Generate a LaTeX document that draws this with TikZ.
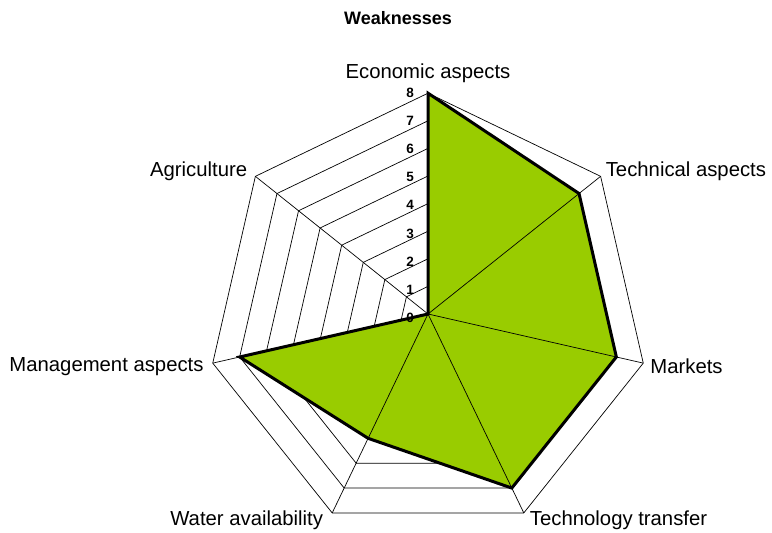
\documentclass[tikz,border=0pt]{standalone}
\usepackage{fontspec}
\setmainfont{Liberation Sans}
\definecolor{chartgreen}{HTML}{99CC00}

\begin{document}
\begin{tikzpicture}[x=1pt,y=1pt,
  grid line/.style={black,line width=0.7pt},
  axis label/.style={font=\fontsize{20.3}{22}\selectfont,inner sep=2pt},
  tick label/.style={font=\bfseries\fontsize{13.5}{15}\selectfont,inner sep=0pt,anchor=east}]
  \useasboundingbox (0,0) rectangle (772,533);

  \node[font=\bfseries\fontsize{18}{21}\selectfont] (title) at (398,515) {Weaknesses};

  \begin{scope}[shift={(428,219)}]
    % rings
    \foreach \r in {1,...,8}
      \draw[grid line] (90:\r*27.6) \foreach \k in {1,...,6}{ -- (90-\k*360/7:\r*27.6)} -- cycle;
    % data area
    \fill[chartgreen] (90:8*27.6) -- (90-360/7:7*27.6) -- (90-2*360/7:7*27.6)
      -- (90-3*360/7:7*27.6) -- (90-4*360/7:5*27.6) -- (90-5*360/7:7*27.6) -- (0,0) -- cycle;
    % axes
    \foreach \k in {0,...,6}
      \draw[grid line] (0,0) -- (90-\k*360/7:8*27.6);
    \draw[line width=3pt,line join=miter] (90:8*27.6) -- (90-360/7:7*27.6) -- (90-2*360/7:7*27.6)
      -- (90-3*360/7:7*27.6) -- (90-4*360/7:5*27.6) -- (90-5*360/7:7*27.6) -- (0,0) -- cycle;
    % scale
    \foreach \i in {0,...,8}
      \node[tick label] (tick\i) at (-14,\i*28.2-4) {\i};

    \node[axis label,anchor=south] (economic) at ([yshift=8pt]90:8*27.6) {Economic aspects};
    \node[axis label,anchor=west] (technical) at ([shift={(3pt,5pt)}]90-360/7:8*27.6) {Technical aspects};
    \node[axis label,anchor=west] (markets) at ([shift={(5pt,-3pt)}]90-2*360/7:8*27.6) {Markets};
    \node[axis label,anchor=west] (transfer) at ([shift={(4pt,-7pt)}]90-3*360/7:8*27.6) {Technology transfer};
    \node[axis label,anchor=east] (water) at ([shift={(-7pt,-7pt)}]90-4*360/7:8*27.6) {Water availability};
    \node[axis label,anchor=east] (management) at ([shift={(-7pt,-3pt)}]90-5*360/7:8*27.6) {Management aspects};
    \node[axis label,anchor=east] (agriculture) at ([shift={(-6pt,5pt)}]90-6*360/7:8*27.6) {Agriculture};
  \end{scope}
\end{tikzpicture}
\end{document}
